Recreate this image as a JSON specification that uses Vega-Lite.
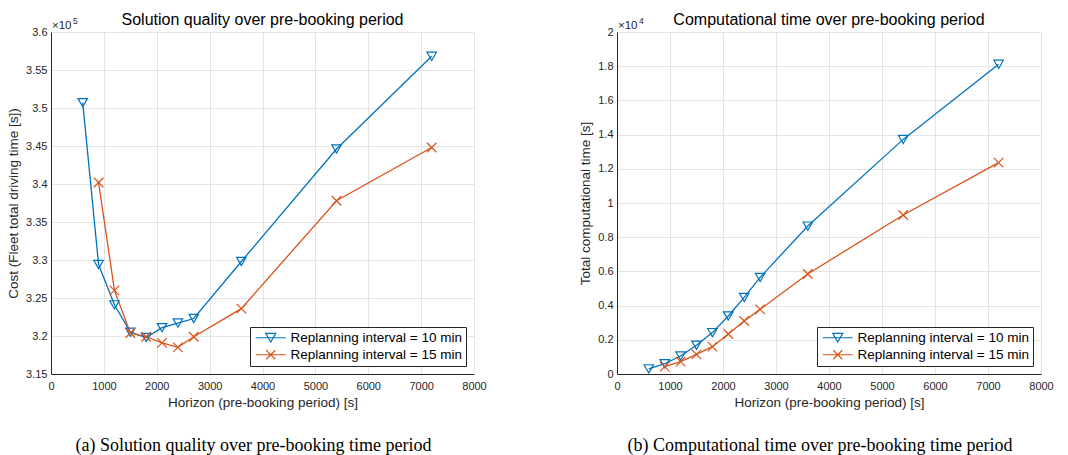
{
  "$schema": "https://vega.github.io/schema/vega-lite/v6.json",
  "background": "white",
  "padding": {"left": 6, "top": 12, "right": 5, "bottom": 0},
  "datasets": {
    "perf": [
      {"interval": "Replanning interval = 10 min", "horizon": 600, "cost": 350700, "comptime": 300},
      {"interval": "Replanning interval = 10 min", "horizon": 900, "cost": 329400, "comptime": 600},
      {"interval": "Replanning interval = 10 min", "horizon": 1200, "cost": 324100, "comptime": 1050},
      {"interval": "Replanning interval = 10 min", "horizon": 1500, "cost": 320500, "comptime": 1680},
      {"interval": "Replanning interval = 10 min", "horizon": 1800, "cost": 319800, "comptime": 2420},
      {"interval": "Replanning interval = 10 min", "horizon": 2100, "cost": 321100, "comptime": 3390},
      {"interval": "Replanning interval = 10 min", "horizon": 2400, "cost": 321700, "comptime": 4480},
      {"interval": "Replanning interval = 10 min", "horizon": 2700, "cost": 322300, "comptime": 5650},
      {"interval": "Replanning interval = 10 min", "horizon": 3600, "cost": 329800, "comptime": 8650},
      {"interval": "Replanning interval = 10 min", "horizon": 5400, "cost": 344600, "comptime": 13720},
      {"interval": "Replanning interval = 10 min", "horizon": 7200, "cost": 356800, "comptime": 18110},
      {"interval": "Replanning interval = 15 min", "horizon": 900, "cost": 340200, "comptime": 430},
      {"interval": "Replanning interval = 15 min", "horizon": 1200, "cost": 326000, "comptime": 720},
      {"interval": "Replanning interval = 15 min", "horizon": 1500, "cost": 320400, "comptime": 1150},
      {"interval": "Replanning interval = 15 min", "horizon": 1800, "cost": 319900, "comptime": 1600},
      {"interval": "Replanning interval = 15 min", "horizon": 2100, "cost": 319100, "comptime": 2340},
      {"interval": "Replanning interval = 15 min", "horizon": 2400, "cost": 318500, "comptime": 3100},
      {"interval": "Replanning interval = 15 min", "horizon": 2700, "cost": 319900, "comptime": 3780},
      {"interval": "Replanning interval = 15 min", "horizon": 3600, "cost": 323600, "comptime": 5850},
      {"interval": "Replanning interval = 15 min", "horizon": 5400, "cost": 337800, "comptime": 9300},
      {"interval": "Replanning interval = 15 min", "horizon": 7200, "cost": 344800, "comptime": 12360}
    ],
    "expA": [{"base": "×10", "exp": "5", "horizon": 0, "cost": 360000}],
    "expB": [{"base": "×10", "exp": "4", "horizon": 0, "comptime": 20000}]
  },
  "config": {
    "font": "Liberation Sans",
    "view": {"stroke": null},
    "axis": {
      "labelFont": "Liberation Sans", "labelFontSize": 11, "labelColor": "#262626",
      "titleFont": "Liberation Sans", "titleFontSize": 13.5, "titleFontWeight": "normal", "titleColor": "#262626",
      "gridColor": "#e4e4e4", "gridWidth": 1, "domainColor": "#262626", "domainWidth": 1,
      "ticks": false, "labelPadding": 4, "labelFlush": false, "labelOverlap": false
    },
    "axisX": {"titlePadding": 4, "labelPadding": 6},
    "axisY": {"titlePadding": 5},
    "title": {"font": "Liberation Sans", "fontSize": 16, "fontWeight": "normal", "color": "#000000", "offset": -11},
    "legend": {
      "title": null, "orient": "bottom-right", "offset": 8, "fillColor": "white", "strokeColor": "#262626",
      "padding": 4, "labelFont": "Liberation Sans", "labelFontSize": 13.5, "labelColor": "#000000", "labelLimit": 0,
      "symbolSize": 100, "symbolStrokeWidth": 1.2, "symbolOffset": 10, "labelOffset": 13, "rowPadding": 2
    }
  },
  "columns": 2,
  "bounds": "flush",
  "spacing": {"row": 62, "column": 143},
  "resolve": {"scale": {"color": "independent", "shape": "independent"}, "legend": {"color": "independent", "shape": "independent"}},
  "concat": [
    {
      "width": 423, "height": 342,
      "title": "Solution quality over pre-booking period",
      "encoding": {
        "x": {"field": "horizon", "type": "quantitative", "title": "Horizon (pre-booking period) [s]",
              "scale": {"domain": [0, 8000], "nice": false},
              "axis": {"values": [0, 1000, 2000, 3000, 4000, 5000, 6000, 7000, 8000], "format": "d"}},
        "y": {"field": "cost", "type": "quantitative", "title": "Cost (Fleet total driving time [s])",
              "scale": {"domain": [315000, 360000], "nice": false, "zero": false},
              "axis": {"values": [315000, 320000, 325000, 330000, 335000, 340000, 345000, 350000, 355000, 360000],
                       "labelExpr": "format(datum.value / 100000, '~g')"}}
      },
      "layer": [
        {"data": {"name": "perf"},
         "mark": {"type": "line", "strokeWidth": 1.3},
         "encoding": {
           "color": {"field": "interval", "type": "nominal", "scale": {"range": ["#0072BD", "#D95319"]},
                     "legend": {"encode": {"symbols": {"update": {
                       "fill": {"value": "transparent"},
                       "shape": {"signal": "datum.value == 'Replanning interval = 10 min' ? 'M-3,0H3M-1,-0.87L1,-0.87L0,0.87Z' : 'M-3,0H3M-0.9,-0.9L0.9,0.9M-0.9,0.9L0.9,-0.9'"}}}}}}
         }},
        {"data": {"name": "perf"},
         "mark": {"type": "point", "filled": false, "strokeWidth": 1.2, "size": 90, "opacity": 1},
         "encoding": {
           "color": {"field": "interval", "type": "nominal"},
           "shape": {"field": "interval", "type": "nominal",
                     "scale": {"range": ["triangle-down", "M-1,-1L1,1M-1,1L1,-1"]}, "legend": null}}},
        {"data": {"name": "expA"},
         "mark": {"type": "text", "align": "left", "baseline": "bottom", "fontSize": 11.5, "dx": 1, "dy": -1, "color": "#262626"},
         "encoding": {"text": {"field": "base"}}},
        {"data": {"name": "expA"},
         "mark": {"type": "text", "align": "left", "baseline": "bottom", "fontSize": 8.5, "dx": 22, "dy": -6, "color": "#262626"},
         "encoding": {"text": {"field": "exp"}}}
      ]
    },
    {
      "width": 424, "height": 342,
      "title": "Computational time over pre-booking period",
      "encoding": {
        "x": {"field": "horizon", "type": "quantitative", "title": "Horizon (pre-booking period) [s]",
              "scale": {"domain": [0, 8000], "nice": false},
              "axis": {"values": [0, 1000, 2000, 3000, 4000, 5000, 6000, 7000, 8000], "format": "d"}},
        "y": {"field": "comptime", "type": "quantitative", "title": "Total computational time [s]",
              "scale": {"domain": [0, 20000], "nice": false},
              "axis": {"values": [0, 2000, 4000, 6000, 8000, 10000, 12000, 14000, 16000, 18000, 20000],
                       "labelExpr": "format(datum.value / 10000, '~g')"}}
      },
      "layer": [
        {"data": {"name": "perf"},
         "mark": {"type": "line", "strokeWidth": 1.3},
         "encoding": {
           "color": {"field": "interval", "type": "nominal", "scale": {"range": ["#0072BD", "#D95319"]},
                     "legend": {"encode": {"symbols": {"update": {
                       "fill": {"value": "transparent"},
                       "shape": {"signal": "datum.value == 'Replanning interval = 10 min' ? 'M-3,0H3M-1,-0.87L1,-0.87L0,0.87Z' : 'M-3,0H3M-0.9,-0.9L0.9,0.9M-0.9,0.9L0.9,-0.9'"}}}}}}
         }},
        {"data": {"name": "perf"},
         "mark": {"type": "point", "filled": false, "strokeWidth": 1.2, "size": 90, "opacity": 1},
         "encoding": {
           "color": {"field": "interval", "type": "nominal"},
           "shape": {"field": "interval", "type": "nominal",
                     "scale": {"range": ["triangle-down", "M-1,-1L1,1M-1,1L1,-1"]}, "legend": null}}},
        {"data": {"name": "expB"},
         "mark": {"type": "text", "align": "left", "baseline": "bottom", "fontSize": 11.5, "dx": 1, "dy": -1, "color": "#262626"},
         "encoding": {"text": {"field": "base"}}},
        {"data": {"name": "expB"},
         "mark": {"type": "text", "align": "left", "baseline": "bottom", "fontSize": 8.5, "dx": 22, "dy": -6, "color": "#262626"},
         "encoding": {"text": {"field": "exp"}}}
      ]
    },
    {
      "width": 423, "height": 20,
      "data": {"values": [{"c": "(a) Solution quality over pre-booking time period"}]},
      "mark": {"type": "text", "font": "Liberation Serif", "fontSize": 18, "color": "#000000", "dx": -9},
      "encoding": {"text": {"field": "c"}}
    },
    {
      "width": 424, "height": 20,
      "data": {"values": [{"c": "(b) Computational time over pre-booking time period"}]},
      "mark": {"type": "text", "font": "Liberation Serif", "fontSize": 18, "color": "#000000", "dx": -9},
      "encoding": {"text": {"field": "c"}}
    }
  ]
}
